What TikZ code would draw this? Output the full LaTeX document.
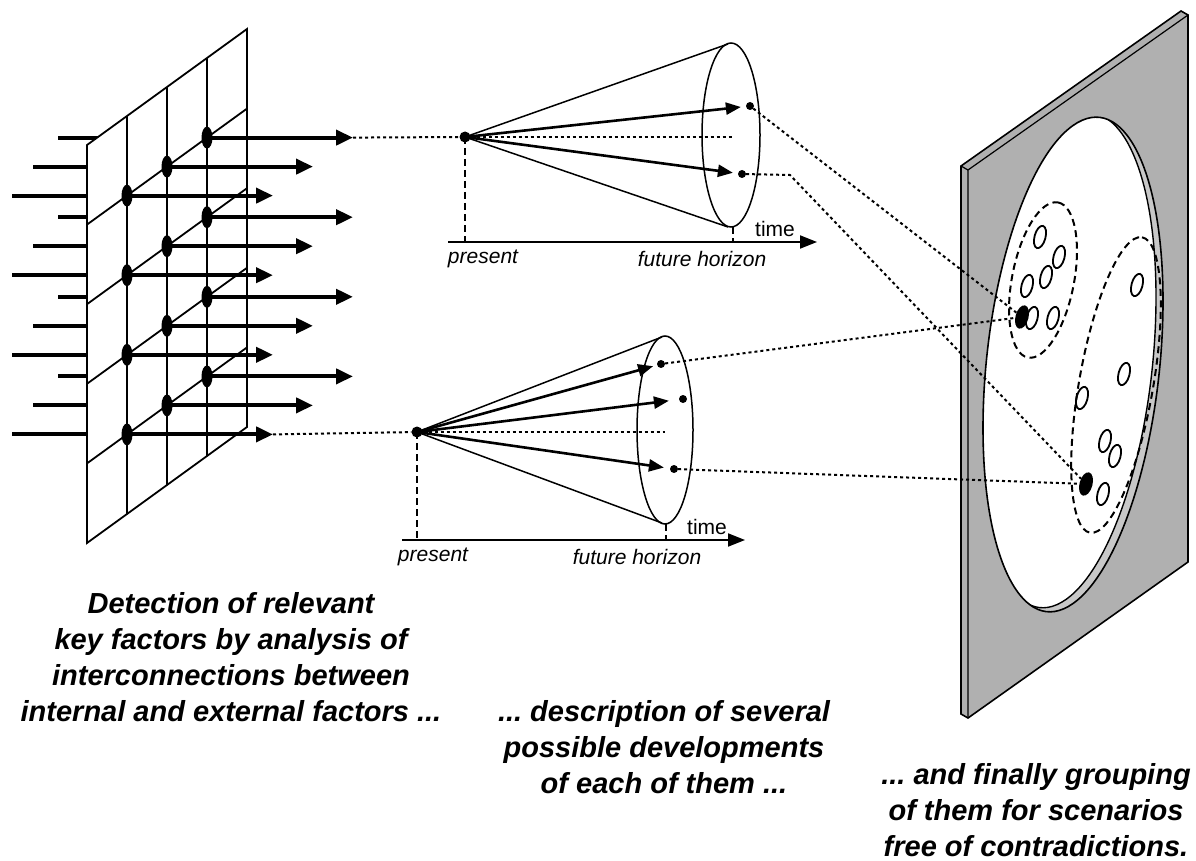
\documentclass[tikz,border=0pt]{standalone}
\usepackage{fontspec}
\setmainfont{Liberation Sans}
\usepackage{tikz}
\usetikzlibrary{positioning,arrows.meta,shapes.geometric,calc}
\definecolor{panelgray}{RGB}{176,176,176}
\definecolor{wallgray}{RGB}{200,200,200}
\frenchspacing
\tikzset{
  feed/.style={line width=4pt},
  keyarrow/.style={line width=4pt,-{Triangle[length=17pt,width=15pt]}},
  gridline/.style={line width=1.8pt},
  keydot/.style={ellipse,fill=black,minimum width=11pt,minimum height=22pt,inner sep=0pt},
  apexdot/.style={circle,fill=black,minimum size=11pt,inner sep=0pt},
  enddot/.style={circle,fill=black,minimum size=8pt,inner sep=0pt},
  conerim/.style={line width=1.5pt},
  devarrow/.style={line width=2.6pt,-{Triangle[length=15pt,width=12pt]}},
  timeaxis/.style={line width=2pt,-{Triangle[length=17pt,width=13pt]}},
  dotline/.style={line width=2pt,dash pattern=on 3pt off 3pt},
  dropline/.style={line width=1.8pt,dash pattern=on 7pt off 4pt},
  grouprim/.style={line width=2pt,dash pattern=on 7pt off 4.5pt},
  optmark/.style={ellipse,draw,line width=1.8pt,minimum width=11pt,minimum height=23pt,inner sep=0pt,rotate=-15},
  chosen/.style={ellipse,fill=black,minimum width=13pt,minimum height=24pt,inner sep=0pt,rotate=-15},
  axislabel/.style={font=\fontsize{21}{24}\selectfont\itshape},
  timelabel/.style={font=\fontsize{21}{24}\selectfont},
  captext/.style={align=center,font=\fontsize{29}{36}\selectfont\bfseries\itshape}
}

\begin{document}
\begin{tikzpicture}[x=1pt,y=-1pt]
  \useasboundingbox (0,0) rectangle (1196,861);

  \foreach \j/\xs in {1/12,2/33,3/58}
    \foreach \k in {1,...,4}
      \draw[feed] (\xs,{145+79.6*\k-29*\j}) -- ({87+40*\j},{145+79.6*\k-29*\j});
  \draw[gridline,fill=white] (87,145) -- (247,29) -- (247,427) -- (87,543) -- cycle;
  \foreach \k in {1,...,4}
    \draw[gridline] (87,{145+79.6*\k}) -- (247,{29+79.6*\k});
  \foreach \j in {1,2,3}
    \draw[gridline] ({87+40*\j},{145-29*\j}) -- ({87+40*\j},{543-29*\j});
  \foreach \k in {1,...,4}
    \foreach \j in {1,2,3} {
      \node[keydot] (d\k\j) at ({87+40*\j},{145+79.6*\k-29*\j}) {};
      \coordinate (t\k\j) at ({233+40*\j},{145+79.6*\k-29*\j});
      \draw[keyarrow] (d\k\j.center) -- (t\k\j);
    }

  \node[apexdot] (apex1) at (465,137) {};
  \coordinate (h1) at (731,135);
  \coordinate (h1top) at (728,44);
  \coordinate (h1bot) at (728,227);
  \coordinate (h1mid) at (732,137);
  \coordinate (h1low) at (733,227);
  \draw[conerim] (h1) ellipse [x radius=29,y radius=92];
  \draw[conerim] (h1top) -- (apex1.center) -- (h1bot);
  \draw[dotline] (apex1) -- (h1mid);
  \node[enddot] (c1u) at (750,106) {};
  \node[enddot] (c1l) at (742,174) {};
  \draw[devarrow,shorten >=5pt] (apex1.center) -- (c1u);
  \draw[devarrow,shorten >=5pt] (apex1.center) -- (c1l);
  \coordinate (ax1s) at (448,242);
  \coordinate (ax1e) at (817,242);
  \draw[timeaxis] (ax1s) -- (ax1e);
  \draw[dropline] (apex1.center) -- (apex1 |- ax1s);
  \draw[dropline] (h1low) -- (h1low |- ax1s);
  \node[axislabel] (pres1) at (483,259) {present};
  \node[axislabel] (fut1) at (702,259) {future horizon};
  \node[timelabel] (time1) at (775,229) {time};

  \node[apexdot] (apex2) at (417,432) {};
  \coordinate (h2) at (665,430);
  \coordinate (h2top) at (662,337);
  \coordinate (h2bot) at (662,523);
  \coordinate (h2mid) at (665,432);
  \coordinate (h2low) at (666,524);
  \draw[conerim] (h2) ellipse [x radius=28,y radius=94];
  \draw[conerim] (h2top) -- (apex2.center) -- (h2bot);
  \draw[dotline] (apex2) -- (h2mid);
  \node[enddot] (c2u) at (661,364) {};
  \node[enddot] (c2m) at (683,399) {};
  \node[enddot] (c2l) at (674,469) {};
  \draw[devarrow,shorten >=4pt] (apex2.center) -- (c2u);
  \draw[devarrow,shorten >=10pt] (apex2.center) -- (c2m);
  \draw[devarrow,shorten >=6pt] (apex2.center) -- (c2l);
  \coordinate (ax2s) at (402,540);
  \coordinate (ax2e) at (745,540);
  \draw[timeaxis] (ax2s) -- (ax2e);
  \draw[dropline] (apex2.center) -- (apex2 |- ax2s);
  \draw[dropline] (h2low) -- (h2low |- ax2s);
  \node[axislabel] (pres2) at (433,557) {present};
  \node[axislabel] (fut2) at (637,557) {future horizon};
  \node[timelabel] (time2) at (707,527) {time};

  \draw[dotline] (t13) -- (apex1);
  \draw[dotline] (t41) -- (apex2);

  \fill[panelgray] (961,166) -- (1181,11) -- (1188,15) -- (1188,562) -- (968,718) -- (961,714) -- cycle;
  \draw[line width=1.2pt] (961,166) -- (968,170) -- (1188,15) (968,170) -- (968,718);
  \draw[line width=1.6pt] (961,166) -- (1181,11) -- (1188,15) -- (1188,562) -- (968,718) -- (961,714) -- cycle;
  \begin{scope}[shift={(1073,364.5)},yslant=0.705]
    \fill[wallgray] (0,0) ellipse [x radius=90,y radius=239];
    \begin{scope}
      \clip (0,0) ellipse [x radius=90,y radius=239];
      \begin{scope}[shift={(-7,-9)}]
        \fill[white] (0,0) ellipse [x radius=90,y radius=239];
        \draw[line width=1.4pt] (0,0) ellipse [x radius=90,y radius=239];
      \end{scope}
    \end{scope}
    \draw[line width=1.6pt] (0,0) ellipse [x radius=90,y radius=239];
  \end{scope}

  \draw[grouprim,rotate around={79:(1043,280)}] (1043,280) ellipse [x radius=79,y radius=31];
  \draw[grouprim,rotate around={80:(1116,385)}] (1116,385) ellipse [x radius=150,y radius=37];
  \foreach \p [count=\i] in {(1040,237),(1059,257),(1046,277),(1027,286),(1032,318),(1053,318)}
    \node[optmark] (ga\i) at \p {};
  \foreach \p [count=\i] in {(1137,285),(1124,374),(1082,398),(1105,441),(1115,456),(1103,494)}
    \node[optmark] (gb\i) at \p {};
  \node[chosen] (sc1) at (1022,317) {};
  \node[chosen] (sc2) at (1086,484) {};

  \coordinate (c1bend) at (790,175);
  \draw[dotline] (c1u) -- (sc1);
  \draw[dotline] (c1l) -- (c1bend) -- (sc2);
  \draw[dotline] (c2u) -- (sc1);
  \draw[dotline] (c2l) -- (sc2);

  \node[captext] (cap1) at (231,657) {Detection of relevant\\key factors by analysis of\\interconnections between\\internal and external factors ...};
  \node[captext] (cap2) at (664,747) {... description of several\\possible developments\\of each of them ...};
  \node[captext] (cap3) at (1036,810) {... and finally grouping\\of them for scenarios\\free of contradictions.};
\end{tikzpicture}
\end{document}
